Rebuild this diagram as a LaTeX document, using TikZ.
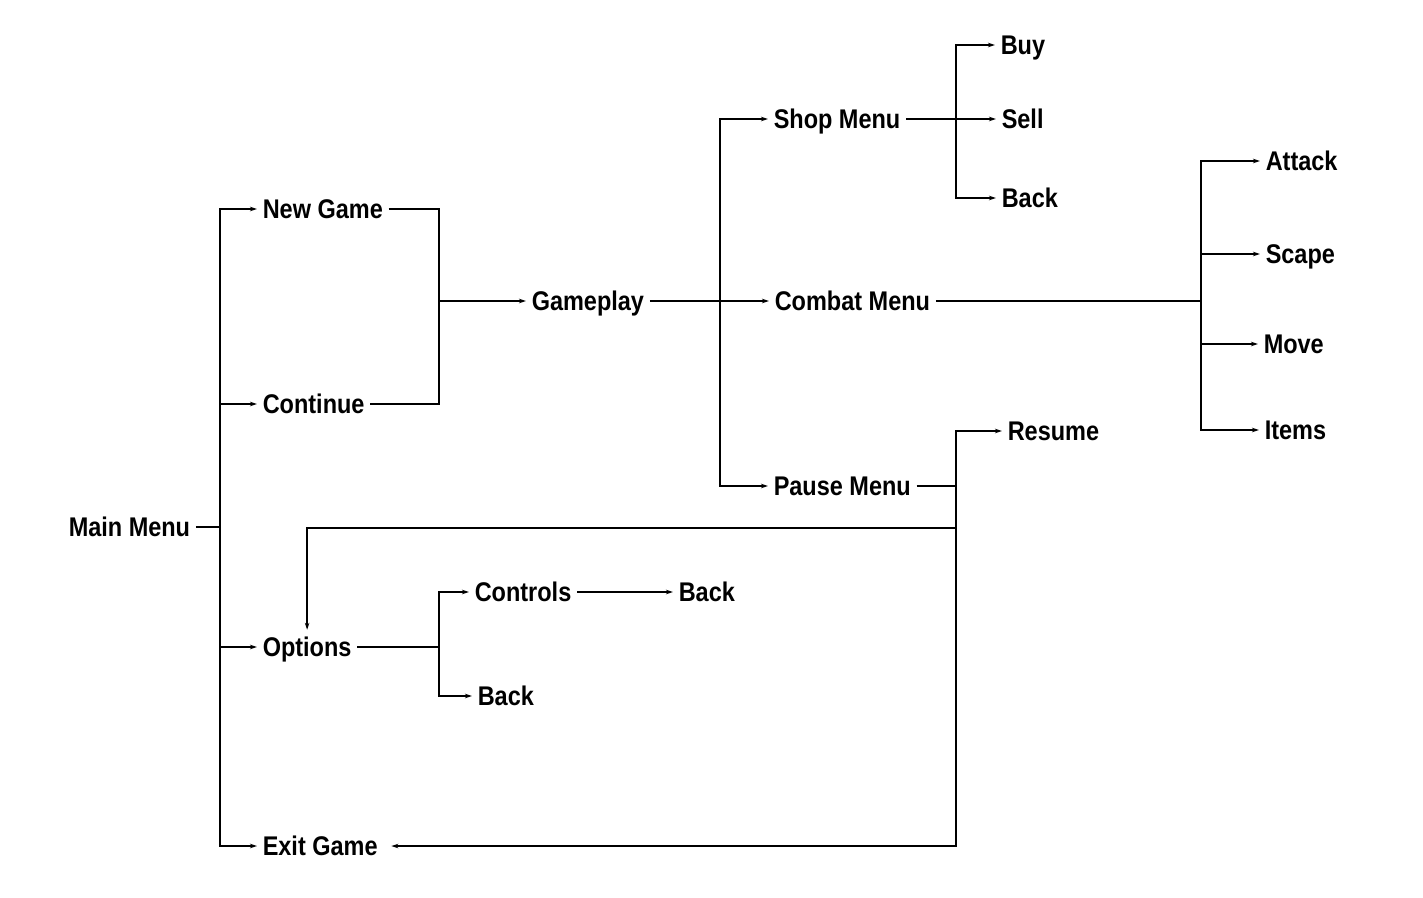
\documentclass[tikz,border=0pt]{standalone}
\usepackage{fontspec}
\setmainfont{Liberation Sans}[FakeStretch=0.87]
\usetikzlibrary{arrows.meta,positioning}

\begin{document}
\begin{tikzpicture}[x=1pt, y=-1pt, line width=1.5pt,
			every node/.style={font=\fontsize{27}{30}\selectfont\bfseries},
			m/.style={anchor=west, inner xsep=5pt, inner ysep=7pt, text height=19pt, text depth=0pt},
			a/.style={-{Stealth[length=7pt,width=4.5pt]}}]
			\useasboundingbox (0,0) rectangle (1423,897);
			\node[m] (mm) at (63,527) {Main Menu};
			\node[m] (ng) at (257,209) {New Game};
			\node[m] (co) at (257,404) {Continue};
			\node[m] (op) at (257,647) {Options};
			\node[m] (ex) at (257,846) {Exit Game};
			\node[m] (gp) at (526,301) {Gameplay};
			\node[m] (sh) at (768,119) {Shop Menu};
			\node[m] (cb) at (769,301) {Combat Menu};
			\node[m] (pa) at (768,486) {Pause Menu};
			\node[m] (bu) at (995,45) {Buy};
			\node[m] (se) at (996,119) {Sell};
			\node[m] (bs) at (996,198) {Back};
			\node[m] (at) at (1260,161) {Attack};
			\node[m] (sc) at (1260,254) {Scape};
			\node[m] (mv) at (1258,344) {Move};
			\node[m] (it) at (1259,430) {Items};
			\node[m] (re) at (1002,431) {Resume};
			\node[m] (ct) at (469,592) {Controls};
			\node[m] (cbk) at (673,592) {Back};
			\node[m] (ob) at (472,696) {Back};
			\coordinate (t1) at (220,527);
			\coordinate (j2) at (439,301);
			\coordinate (j3) at (720,301);
			\coordinate (j4) at (956,119);
			\coordinate (j5) at (1201,301);
			\coordinate (j6) at (956,486);
			\coordinate (k1) at (956,528);
			\coordinate (j7) at (439,647);
			% main menu
			\draw (mm.east) -- (t1);
			\draw[a] (t1) |- (ng.west);
			\draw[a] (t1) |- (co.west);
			\draw[a] (t1) |- (op.west);
			\draw[a] (t1) |- (ex.west);
			% into gameplay
			\draw (ng.east) -| (j2);
			\draw (co.east) -| (j2);
			\draw[a] (j2) -- (gp.west);
			\draw[a] (gp.east) -- (cb.west);
			\draw[a] (j3) |- (sh.west);
			\draw[a] (j3) |- (pa.west);
			% shop
			\draw[a] (sh.east) -- (se.west);
			\draw[a] (j4) |- (bu.west);
			\draw[a] (j4) |- (bs.west);
			% combat
			\draw (cb.east) -- (j5);
			\draw[a] (j5) |- (at.west);
			\draw[a] (j5) |- (sc.west);
			\draw[a] (j5) |- (mv.west);
			\draw[a] (j5) |- (it.west);
			% pause
			\draw (pa.east) -- (j6);
			\draw[a] (j6) |- (re.west);
			\draw[a] (j6) |- ([xshift=8pt]ex.east);
			\draw[a] (k1) -| (op.north);
			% options
			\draw (op.east) -- (j7);
			\draw[a] (j7) |- (ct.west);
			\draw[a] (j7) |- (ob.west);
			\draw[a] (ct.east) -- (cbk.west);
		\end{tikzpicture}
\end{document}
